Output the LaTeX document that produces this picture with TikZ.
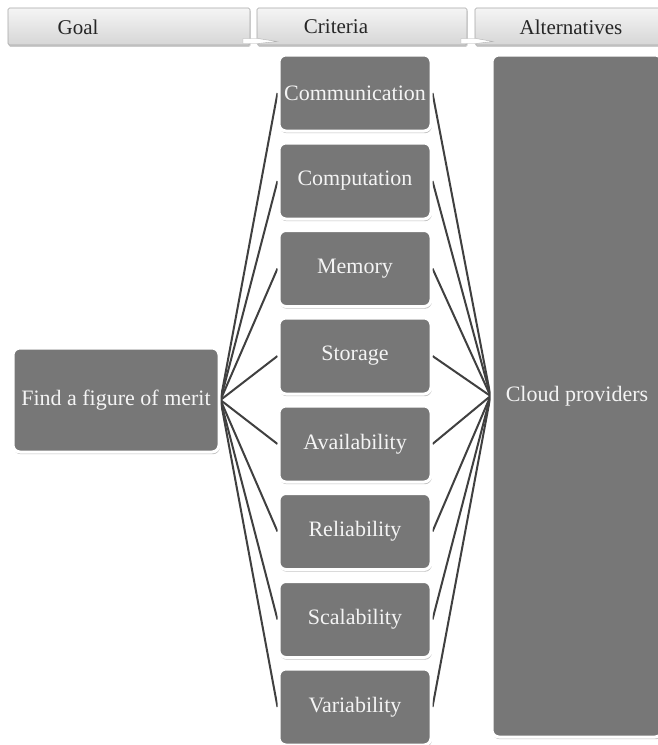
\documentclass[tikz,border=0pt]{standalone}
\usepackage{fontspec}
\setmainfont{Liberation Serif}
\usetikzlibrary{shadows}
\definecolor{boxgray}{HTML}{777777}
\definecolor{linegray}{HTML}{404040}
\definecolor{txtwhite}{HTML}{F4F4F4}
\pgfdeclarelayer{bg}
\pgfdeclarelayer{paper}
\pgfsetlayers{paper,bg,main}
\begin{document}
\begin{tikzpicture}[x=1pt,y=-1pt,
  gbox/.style={draw=white, line width=3pt, fill=boxgray, rounded corners=7pt,
    text=txtwhite, font=\fontsize{22}{24}\selectfont, inner sep=0pt,
    drop shadow={opacity=0.5, shadow xshift=0.8pt, shadow yshift=-2.2pt}},
  crit/.style={gbox, minimum width=152pt, minimum height=76pt},
  hbar/.style={draw=gray!70, line width=0.6pt, top color=gray!8, bottom color=gray!32,
    rounded corners=1.5pt, minimum height=37pt, inner sep=0pt,
    drop shadow={opacity=0.4, shadow xshift=0.6pt, shadow yshift=-1.8pt}},
  htext/.style={font=\fontsize{21}{23}\selectfont, text=black!85, inner sep=0pt},
  chev/.style={fill=white, draw=gray!60, line width=0.4pt},
  link/.style={draw=linegray, line width=2pt}]
\useasboundingbox (0,0) rectangle (657,745);
\begin{pgfonlayer}{paper}
\fill[white] (0,0) rectangle (657,745);
\end{pgfonlayer}

% header bars
\node[hbar, minimum width=242pt] (hgoal) at (129,26.5) {};
\node[hbar, minimum width=210pt] (hcrit) at (362,26.5) {};
\node[hbar, minimum width=190pt] (halt) at (570,26.5) {};
\node[htext] (tgoal) at (78,27) {Goal};
\node[htext] (tcrit) at (336,27) {Criteria};
\node[htext] (talt) at (571,27) {Alternatives};
\filldraw[chev] (243,38.5) -- (258,38.5) -- (277,41.5) -- (258,43.5) -- (243,43.5) -- cycle;
\filldraw[chev] (461,38.5) -- (476,38.5) -- (493,41.5) -- (476,43.5) -- (461,43.5) -- cycle;

% goal
\node[gbox, minimum width=206pt, minimum height=104pt] (goal) at (116,400) {Find a figure of merit};

% criteria
\node[crit] (c1) at (355,93) {Communication};
\node[crit] (c2) at (355,181) {Computation};
\node[crit] (c3) at (355,268.5) {Memory};
\node[crit] (c4) at (355,356) {Storage};
\node[crit] (c5) at (355,444) {Availability};
\node[crit] (c6) at (355,531.5) {Reliability};
\node[crit] (c7) at (355,619.5) {Scalability};
\node[crit] (c8) at (355,707) {Variability};

% alternative
\node[gbox, minimum width=170pt, minimum height=682pt] (cloud) at (577,396) {Cloud providers};

\begin{pgfonlayer}{bg}
\foreach \c in {c1,c2,c3,c4,c5,c6,c7,c8}{
  \draw[link] (goal.east) -- (\c.west);
  \draw[link] (\c.east) -- (cloud.west);
}
\end{pgfonlayer}
\end{tikzpicture}
\end{document}
